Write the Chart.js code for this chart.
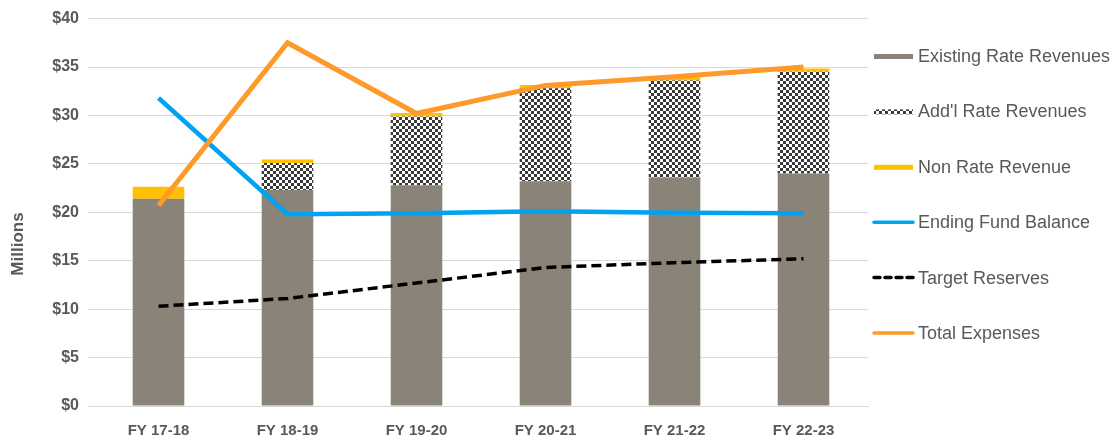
<!DOCTYPE html>
<html>
<head>
<meta charset="utf-8">
<script src="https://cdn.jsdelivr.net/npm/chart.js@4.4.0/dist/chart.umd.min.js"></script>
<style>
  html, body { margin: 0; padding: 0; background: #fff; }
  #wrap { width: 1113px; height: 440px; }
</style>
</head>
<body>
<div id="wrap"><canvas id="chart" width="1113" height="440"></canvas></div>
<script>
const years = ["FY 17-18", "FY 18-19", "FY 19-20", "FY 20-21", "FY 21-22", "FY 22-23"];
const existingRate = [21.4, 22.3, 22.8, 23.2, 23.6, 24.0];
const addlRate = [0, 2.8, 7.1, 9.6, 10.0, 10.5];
const nonRate = [1.25, 0.35, 0.35, 0.35, 0.35, 0.35];
const endingFund = [31.8, 19.8, 19.9, 20.1, 19.95, 19.9];
const targetReserves = [10.3, 11.1, 12.7, 14.3, 14.8, 15.2];
const totalExpenses = [20.7, 37.5, 30.2, 33.1, 34.0, 35.0];

const grey = "#595959";
const font = "'Liberation Sans', Arial, sans-serif";

// little checkerboard for the Add'l Rate bars
const checker = (() => {
  const c = document.createElement("canvas");
  c.width = 6; c.height = 6;
  const g = c.getContext("2d");
  g.fillStyle = "#ffffff";
  g.fillRect(0, 0, 6, 6);
  g.fillStyle = "#3a3a3a";
  g.fillRect(0, 0, 3, 3);
  g.fillRect(3, 3, 3, 3);
  return g.createPattern(c, "repeat");
})();

// legend + "Millions" drawn by hand
const sideLegend = {
  id: "sideLegend",
  afterDraw(chart) {
    const ctx = chart.ctx;
    const x0 = 873, y0 = 56, step = 55.4;
    ctx.save();
    ctx.font = "18px " + font;
    ctx.textBaseline = "middle";
    chart.data.datasets.forEach((ds, i) => {
      const y = y0 + i * step;
      if (ds.type === "line") {
        ctx.strokeStyle = ds.borderColor;
        ctx.lineWidth = 3.5;
        ctx.lineCap = "round";
        ctx.setLineDash(ds.borderDash ? [6, 5] : []);
        ctx.beginPath();
        ctx.moveTo(x0 + 1, y);
        ctx.lineTo(x0 + 40, y);
        ctx.stroke();
        ctx.setLineDash([]);
      } else {
        ctx.fillStyle = ds.backgroundColor;
        ctx.fillRect(x0 + 1, y - 2, 39, 5);
      }
      ctx.fillStyle = grey;
      ctx.fillText(ds.label, x0 + 45, y + 1);
    });

    ctx.translate(18, 244);
    ctx.rotate(-Math.PI / 2);
    ctx.textAlign = "center";
    ctx.font = "bold 17px " + font;
    ctx.fillText("Millions", 0, 0);
    ctx.restore();
  }
};

const barOpts = { order: 5, barPercentage: 0.8, categoryPercentage: 0.5, stack: "rev" };
const lineOpts = { type: "line", pointRadius: 0, tension: 0 };

new Chart(document.getElementById("chart"), {
  data: {
    labels: years,
    datasets: [
      { type: "bar", label: "Existing Rate Revenues", data: existingRate, backgroundColor: "#8a8377", ...barOpts },
      { type: "bar", label: "Add'l Rate Revenues", data: addlRate, backgroundColor: checker, ...barOpts },
      { type: "bar", label: "Non Rate Revenue", data: nonRate, backgroundColor: "#ffc000", ...barOpts },
      { label: "Ending Fund Balance", data: endingFund, borderColor: "#00a3f2", borderWidth: 4.5, order: 1, stack: "efb", ...lineOpts },
      { label: "Target Reserves", data: targetReserves, borderColor: "#000000", borderWidth: 3.5, borderDash: [10, 5], order: 2, stack: "tr", ...lineOpts },
      { label: "Total Expenses", data: totalExpenses, borderColor: "#ff9a2a", borderWidth: 5, order: 0, stack: "te", ...lineOpts }
    ]
  },
  options: {
    responsive: false,
    animation: false,
    layout: { padding: { top: 0, right: 245, left: 0, bottom: 0 } },
    plugins: {
      legend: { display: false },
      tooltip: { enabled: false }
    },
    scales: {
      x: {
        stacked: true,
        grid: { display: false },
        border: { color: "#d9d9d9" },
        ticks: { color: grey, font: { family: font, size: 15, weight: "bold" }, padding: 8 },
        afterFit(s) { s.height = 34; }
      },
      y: {
        stacked: true,
        min: 0,
        max: 40,
        ticks: {
          stepSize: 5,
          color: grey,
          padding: 9,
          font: { family: font, size: 16, weight: "bold" },
          callback: v => "$" + v
        },
        grid: { color: "#d9d9d9", lineWidth: 1, drawTicks: true, tickLength: 6 },
        border: { display: false },
        afterFit(s) { s.width = 94; }
      }
    }
  },
  plugins: [sideLegend]
});
</script>
</body>
</html>
